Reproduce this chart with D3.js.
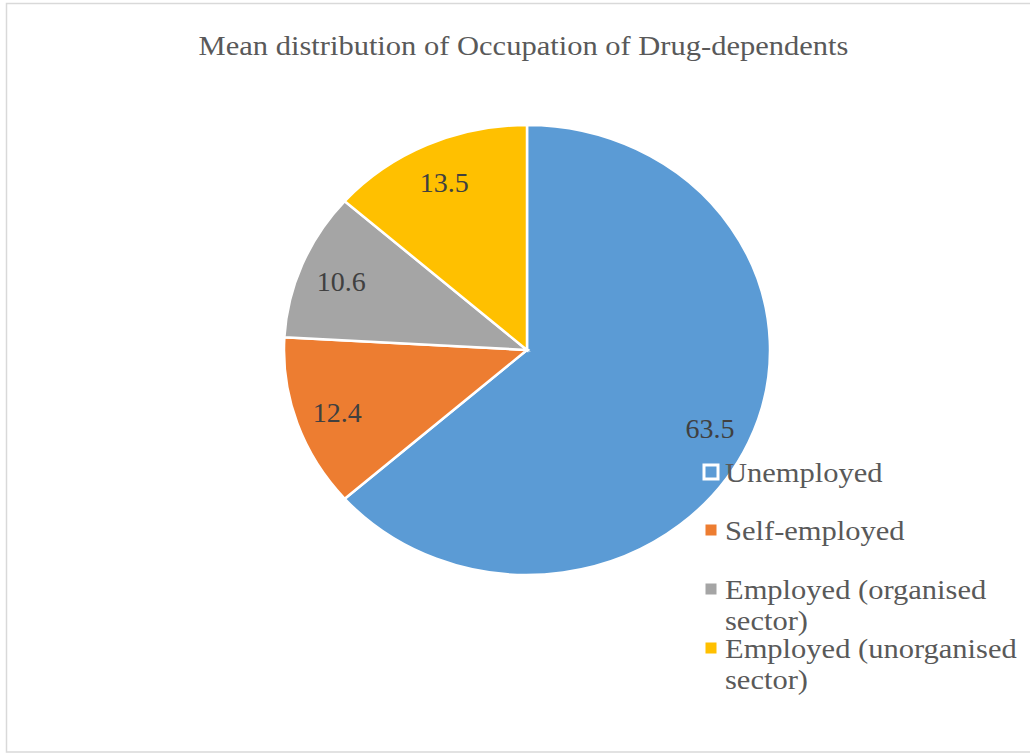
<!DOCTYPE html>
<html>
<head>
<meta charset="utf-8">
<script src="https://cdn.jsdelivr.net/npm/d3@7"></script>
<style>
  html, body { margin: 0; padding: 0; background: #ffffff; }
  svg { display: block; }
  text { font-family: "Liberation Serif", "Times New Roman", serif; }
</style>
</head>
<body>
<svg id="chart" width="1030" height="755"></svg>
<script>
// Occupation categories and their mean share (%)
const categories = ["Unemployed", "Self-employed", "Employed (organised sector)", "Employed (unorganised sector)"];
const values = [63.5, 12.4, 10.6, 13.5];
// Legend text, wrapped as it is laid out
const legendLines = [["Unemployed"], ["Self-employed"], ["Employed (organised", "sector)"], ["Employed (unorganised", "sector)"]];
const colors = ["#5B9BD5", "#ED7D31", "#A5A5A5", "#FFC000"];
const title = "Mean distribution of Occupation of Drug-dependents";

const svg = d3.select("#chart");
const W = 1030, H = 755;

// frame
svg.append("rect")
  .attr("x", 6.5).attr("y", 3.5)
  .attr("width", W + 10).attr("height", 748.5)
  .attr("fill", "#ffffff")
  .attr("stroke", "#d9d9d9").attr("stroke-width", 1.5);

// widen a text horizontally by a factor, keeping its anchor
function stretch(sel, factor) {
  sel.each(function () {
    const len = this.getComputedTextLength();
    d3.select(this).attr("textLength", len * factor).attr("lengthAdjust", "spacingAndGlyphs");
  });
}

// title
svg.append("text")
  .attr("x", 523.5).attr("y", 55)
  .attr("text-anchor", "middle")
  .attr("font-size", 27)
  .attr("fill", "#595959")
  .text(title)
  .call(stretch, 1.13);

// pie (slightly wider than tall)
const cx = 527, cy = 350, ry = 225, sx = 1.08;
const color = d3.scaleOrdinal().domain(categories).range(colors);
const pie = d3.pie().sort(null).value(d => d.value);
const data = pie(categories.map((c, i) => ({ name: c, value: values[i] })));
const arc = d3.arc().innerRadius(0).outerRadius(ry);
const labelArc = d3.arc().innerRadius(186).outerRadius(186);

const g = svg.append("g").attr("transform", `translate(${cx},${cy}) scale(${sx},1)`);
g.selectAll("path.slice")
  .data(data)
  .join("path")
  .attr("class", "slice")
  .attr("d", arc)
  .attr("fill", d => color(d.data.name))
  .attr("stroke", "#ffffff")
  .attr("stroke-width", 2.5)
  .attr("vector-effect", "non-scaling-stroke");

// value labels
svg.selectAll("text.val")
  .data(data)
  .join("text")
  .attr("class", "val")
  .attr("x", d => cx + labelArc.centroid(d)[0] * sx)
  .attr("y", d => cy + labelArc.centroid(d)[1])
  .attr("dy", "0.4em")
  .attr("text-anchor", "middle")
  .attr("font-size", 28)
  .attr("fill", "#404040")
  .text(d => d3.format(".1f")(d.data.value));

// legend
const legendX = 725, markerX = 711;
const legendBaselines = [482, 540, 599, 658];
const lineGap = 30.5;
const lg = svg.append("g");
categories.forEach((c, i) => {
  const by = legendBaselines[i];
  lg.append("rect")
    .attr("x", markerX - 8.5).attr("y", by - 10 - 8.5)
    .attr("width", 17).attr("height", 17)
    .attr("fill", "#ffffff");
  lg.append("rect")
    .attr("x", markerX - 5.5).attr("y", by - 10 - 5.5)
    .attr("width", 11).attr("height", 11)
    .attr("fill", color(c));
  legendLines[i].forEach((line, j) => {
    lg.append("text")
      .attr("x", legendX).attr("y", by + j * lineGap)
      .attr("font-size", 27)
      .attr("fill", "#595959")
      .text(line)
      .call(stretch, 1.13);
  });
});
</script>
</body>
</html>
